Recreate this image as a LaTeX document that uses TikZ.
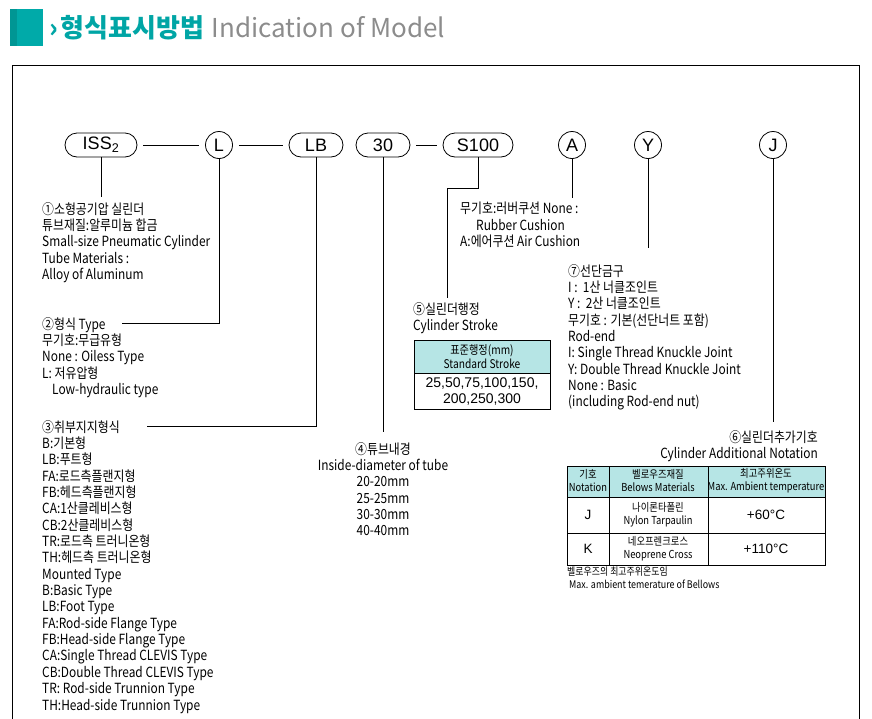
\documentclass[tikz,border=0pt]{standalone}
\usepackage{fontspec}
\setmainfont{Noto Sans CJK KR}[FakeStretch=0.85]
\newfontfamily\titlefont{Noto Sans CJK KR}
\newfontfamily\codefont{Liberation Sans}
\usetikzlibrary{positioning}
\definecolor{tealbox}{RGB}{0,170,169}
\definecolor{tealdark}{RGB}{0,150,148}
\definecolor{tealtext}{RGB}{0,165,165}
\definecolor{titlegray}{RGB}{140,140,140}
\definecolor{headfill}{RGB}{182,229,229}

\begin{document}
\begin{tikzpicture}[x=1pt,y=-1pt,node distance=2cm,on grid,
    code/.style={draw,line width=0.8pt,rounded corners=12pt,minimum height=24pt,inner sep=0pt,font=\codefont\fontsize{18}{18}\selectfont},
    letter/.style={draw,line width=0.8pt,circle,minimum size=27pt,inner sep=0pt,font=\codefont\fontsize{18}{18}\selectfont},
    lead/.style={line width=0.9pt},
    link/.style={line width=0.9pt,shorten >=6pt,shorten <=6pt},
    txt/.style={inner sep=0pt,align=left,font=\fontsize{14}{16.35}\selectfont},
    small/.style={inner sep=0pt,align=center,font=\fontsize{11}{13}\selectfont},
    num/.style={inner sep=0pt,align=center,font=\codefont\fontsize{13.5}{16}\selectfont}]
  \useasboundingbox (0,0) rectangle (872,718);
  \clip (0,0) rectangle (872,718);

  % title
  \fill[tealbox] (10,9) rectangle (43,46);
  \fill[tealdark] (10,9) rectangle (17,46);
  \node[inner sep=0pt,anchor=base west,text=tealtext,font=\titlefont\bfseries\fontsize{26}{26}\selectfont] (ttl) at (49,37) {›\hspace{3pt}형식표시방법};
  \node[inner sep=0pt,anchor=base west,text=titlegray,font=\titlefont\fontsize{26}{26}\selectfont] (ttlen) at ([xshift=7pt]ttl.base east) {Indication of Model};

  % frame
  \draw[line width=1pt] (12,730) -- (12,65) -- (859,65) -- (859,730);

  % model code
  \node[code,minimum width=72pt] (iss) at (101,145) {ISS\textsubscript{2}};
  \node[letter] (typ) [right=118pt of iss] {L};
  \node[code,minimum width=54pt] (mnt) [right=97pt of typ] {LB};
  \node[code,minimum width=54pt] (bore) [right=67pt of mnt] {30};
  \node[code,minimum width=70pt] (strk) [right=95pt of bore] {S100};
  \node[letter] (cush) [right=94pt of strk] {A};
  \node[letter] (rodend) [right=76pt of cush] {Y};
  \node[letter] (bell) [right=125pt of rodend] {J};

  \path (iss) edge[link] (typ)
        (typ) edge[link] (mnt)
        (bore) edge[link] (strk);

  % leader ends
  \coordinate (t1) at (101,197);
  \coordinate (t2) at (122,323);
  \coordinate (t3) at (147,426);
  \coordinate (t4) at (383,432);
  \coordinate (s1) at (447,188);
  \coordinate (t5) at (447,298);
  \coordinate (ta) at (572,198);
  \coordinate (t7) at (648,248);
  \coordinate (t6) at (773,422);

  \draw[lead] (iss.south) -- (t1);
  \draw[lead] (typ.south) |- (t2);
  \draw[lead] (mnt.south) |- (t3);
  \draw[lead] (bore.south) -- (t4);
  \draw[lead] (strk.south) |- (s1) -- (t5);
  \draw[lead] (cush.south) -- (ta);
  \draw[lead] (rodend.south) -- (t7);
  \draw[lead] (bell.south) -- (t6);

  % descriptions
  \node[txt,anchor=north west] (d1) at (42,202) {①소형공기압 실린더\\튜브재질:알루미늄 합금\\Small-size Pneumatic Cylinder\\Tube Materials :\\Alloy of Aluminum};
  \node[txt,anchor=north west] (d2) at (42,317) {②형식 Type\\무기호:무급유형\\None : Oiless Type\\L: 저유압형\\\hspace*{10pt}Low-hydraulic type};
  \node[txt,anchor=north west] (d3) at (42,420) {③취부지지형식\\B:기본형\\LB:푸트형\\FA:로드측플랜지형\\FB:헤드측플랜지형\\CA:1산클레비스형\\CB:2산클레비스형\\TR:로드측 트러니온형\\TH:헤드측 트러니온형\\Mounted Type\\B:Basic Type\\LB:Foot Type\\FA:Rod-side Flange Type\\FB:Head-side Flange Type\\CA:Single Thread CLEVIS Type\\CB:Double Thread CLEVIS Type\\TR: Rod-side Trunnion Type\\TH:Head-side Trunnion Type};
  \node[txt,anchor=north,align=center] (d4) at (383,442) {④튜브내경\\Inside-diameter of tube\\20-20mm\\25-25mm\\30-30mm\\40-40mm};
  \node[txt,anchor=north west] (d5) at (413,302) {⑤실린더행정\\Cylinder Stroke};
  \node[txt,anchor=north west] (dA) at (460,202) {무기호:러버쿠션 None :\\\hspace*{16pt}Rubber Cushion\\A:에어쿠션 Air Cushion};
  \node[txt,anchor=north west] (d7) at (568,264) {⑦선단금구\\I :\ \ 1산 너클조인트\\Y :\ \ 2산 너클조인트\\무기호 : 기본(선단너트 포함)\\Rod-end\\I: Single Thread Knuckle Joint\\Y: Double Thread Knuckle Joint\\None : Basic\\(including Rod-end nut)};
  \node[txt,anchor=north east,align=right] (d6) at (818,430) {⑥실린더추가기호\\Cylinder Additional Notation};

  % stroke table
  \fill[headfill] (414,340) rectangle (550,373);
  \draw[line width=0.8pt] (414,340) rectangle (550,409);
  \draw[line width=0.8pt] (414,373) -- (550,373);
  \node[small,font=\fontsize{12}{14}\selectfont] (sh) at (482,357) {표준행정(mm)\\Standard Stroke};
  \node[num,font=\codefont\fontsize{14}{16}\selectfont] (sb) at (482,391) {25,50,75,100,150,\\200,250,300};

  % bellows table
  \fill[headfill] (567,466) rectangle (825,497);
  \draw[line width=0.8pt] (567,466) rectangle (825,565);
  \draw[line width=0.8pt] (567,497) -- (825,497) (567,533) -- (825,533)
    (609,466) -- (609,565) (708,466) -- (708,565);
  \node[small] (h1) at (588,481) {기호\\Notation};
  \node[small] (h2) at (658,481) {벨로우즈재질\\Belows Materials};
  \node[small] (h3) at (766,481) {최고주위온도\\Max. Ambient temperature};
  \node[num] (r1a) at (588,515) {J};
  \node[small] (r1b) at (658,515) {나이론타폴린\\Nylon Tarpaulin};
  \node[num] (r1c) at (766,515) {+60°C};
  \node[num] (r2a) at (588,549) {K};
  \node[small] (r2b) at (658,549) {네오프렌크로스\\Neoprene Cross};
  \node[num] (r2c) at (766,549) {+110°C};
  \node[small,align=left,anchor=north west,font=\fontsize{10.5}{12.5}\selectfont] (note) at (567,567) {벨로우즈의 최고주위온도임\\\hspace*{2pt}Max. ambient temerature of Bellows};
\end{tikzpicture}
\end{document}
